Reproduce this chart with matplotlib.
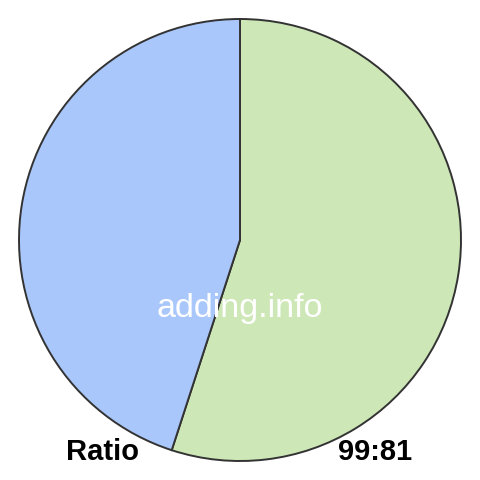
import matplotlib
matplotlib.use("Agg")
import matplotlib.pyplot as plt

labels = ["99", "81"]
values = [99, 81]
colors = ["#cde7b7", "#a9c7fb"]
ratio_label = "Ratio"
ratio_text = "99:81"
watermark = "adding.info"

fig = plt.figure(figsize=(4.8, 4.8), dpi=100)
ax = fig.add_axes([0, 0, 1, 1])
ax.set_xlim(0, 480)
ax.set_ylim(0, 480)
ax.set_aspect("equal")
ax.axis("off")

ax.pie(values, colors=colors, startangle=90, counterclock=False,
       center=(240, 240), radius=221, frame=True,
       wedgeprops=dict(edgecolor="#333333", linewidth=1.4))
ax.set_xlim(0, 480)
ax.set_ylim(0, 480)
ax.axis("off")

ax.text(240, 163, watermark, color="white", fontsize=24.5,
        family=["Liberation Sans", "DejaVu Sans"], ha="center", va="baseline")
ax.text(103, 20, ratio_label, color="black", fontsize=21, fontweight="bold",
        family=["Liberation Sans", "DejaVu Sans"], ha="center", va="baseline")
ax.text(375, 20, ratio_text, color="black", fontsize=21, fontweight="bold",
        family=["Liberation Sans", "DejaVu Sans"], ha="center", va="baseline")

fig.savefig("out.png", dpi=100, facecolor="white")
